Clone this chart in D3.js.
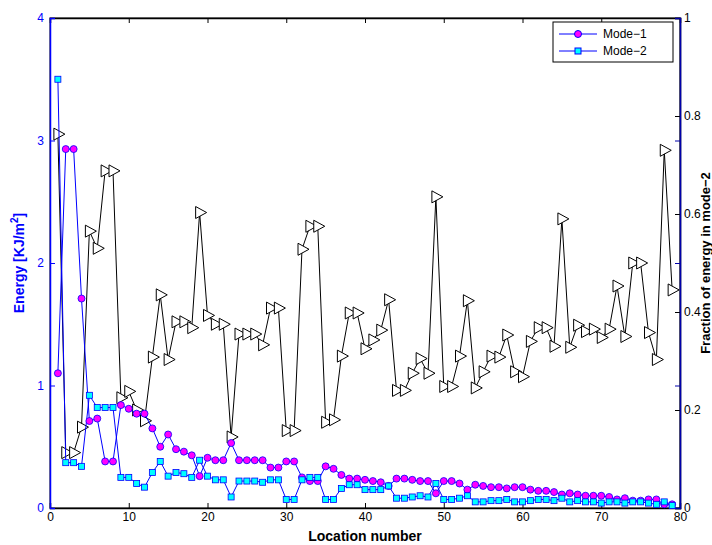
<!DOCTYPE html>
<meta charset="utf-8">
<style>
  body { margin: 0; background: #fff; }
  text { font-family: "Liberation Sans", Arial, sans-serif; }
</style>
<body>
<svg id="chart" width="712" height="545"></svg>
<script src="https://d3js.org/d3.v7.min.js"></script>
<script>
// energy values, KJ/m^2
var mode1 = [1.10,2.93,2.93,1.71,0.71,0.73,0.38,0.38,0.84,0.81,0.77,0.77,0.65,0.50,0.60,0.48,0.46,0.43,0.26,0.41,
  0.39,0.39,0.53,0.39,0.39,0.39,0.39,0.33,0.33,0.38,0.38,0.25,0.22,0.22,0.34,0.32,0.27,0.24,0.24,0.23,
  0.22,0.21,0.18,0.24,0.24,0.23,0.22,0.22,0.12,0.22,0.22,0.20,0.15,0.19,0.18,0.17,0.17,0.16,0.17,0.17,
  0.15,0.14,0.14,0.13,0.11,0.12,0.11,0.10,0.10,0.10,0.09,0.07,0.08,0.06,0.06,0.07,0.07,0.03,0.03];
var mode2 = [3.50,0.37,0.37,0.34,0.92,0.82,0.82,0.82,0.25,0.25,0.20,0.17,0.29,0.38,0.26,0.29,0.28,0.25,0.39,0.26,
  0.23,0.23,0.09,0.22,0.22,0.22,0.21,0.23,0.23,0.07,0.07,0.23,0.25,0.25,0.07,0.07,0.16,0.19,0.19,0.15,
  0.15,0.15,0.18,0.08,0.08,0.09,0.10,0.09,0.20,0.07,0.07,0.08,0.10,0.05,0.05,0.06,0.06,0.07,0.05,0.05,
  0.06,0.07,0.07,0.06,0.08,0.05,0.06,0.05,0.05,0.04,0.05,0.05,0.04,0.05,0.05,0.04,0.03,0.05,0.02];
// fraction of energy in mode-2
var frac = [0.763,0.113,0.113,0.165,0.565,0.530,0.688,0.688,0.225,0.238,0.200,0.178,0.308,0.435,0.303,0.380,0.380,0.368,0.603,0.393,
  0.375,0.375,0.145,0.355,0.355,0.355,0.333,0.408,0.408,0.158,0.158,0.528,0.575,0.575,0.175,0.180,0.310,0.398,0.398,0.325,
  0.343,0.363,0.425,0.240,0.240,0.275,0.305,0.275,0.635,0.248,0.248,0.310,0.423,0.245,0.278,0.310,0.308,0.353,0.278,0.268,
  0.340,0.368,0.368,0.330,0.590,0.328,0.373,0.360,0.365,0.348,0.365,0.453,0.350,0.500,0.500,0.358,0.303,0.730,0.445];
var xTicks = [0,10,20,30,40,50,60,70,80];
var yLeftTicks = [0,1,2,3,4];
var yRightTicks = [0,0.2,0.4,0.6,0.8,1];

var L = 50, R = 680, T = 18, B = 508;
var svg = d3.select("#chart");
var x = d3.scaleLinear().domain([0, 80]).range([L, R]);
var yl = d3.scaleLinear().domain([0, 4]).range([B, T]);
var yr = d3.scaleLinear().domain([0, 1]).range([B, T]);
var idx = d3.range(1, 80);
var fmt = d3.format("~g");

svg.append("rect").attr("x", L).attr("y", T).attr("width", R - L).attr("height", B - T)
  .attr("fill", "none").attr("stroke", "#000");

var gx = svg.append("g").attr("transform", "translate(0," + B + ")")
  .call(d3.axisBottom(x).tickValues(xTicks).tickSize(-5).tickPadding(4));
gx.selectAll("text").attr("font-size", 12);
svg.append("g").attr("transform", "translate(0," + T + ")")
  .call(d3.axisTop(x).tickValues(xTicks).tickSize(-5).tickFormat(""));

var gl = svg.append("g").attr("transform", "translate(" + L + ",0)")
  .call(d3.axisLeft(yl).tickValues(yLeftTicks).tickSize(-5).tickPadding(6).tickFormat(fmt));
gl.selectAll("text").attr("font-size", 12).attr("fill", "#00f");
gl.selectAll("line,path").attr("stroke", "#00f");
var gr = svg.append("g").attr("transform", "translate(" + R + ",0)")
  .call(d3.axisRight(yr).tickValues(yRightTicks).tickSize(-5).tickPadding(4).tickFormat(fmt));
gr.selectAll("text").attr("font-size", 12);
svg.append("g").attr("transform", "translate(" + R + ",0)")
  .call(d3.axisRight(yl).tickValues(yLeftTicks).tickSize(-5).tickFormat(""))
  .selectAll("line,path").attr("stroke", "#00a");
svg.selectAll(".domain").attr("stroke-width", 1.5);

// fraction line with triangles
svg.append("path").datum(idx).attr("fill", "none").attr("stroke", "#000")
  .attr("d", d3.line().x(function(d){ return x(d); }).y(function(d){ return yr(frac[d-1]); }));
svg.append("g").selectAll("path").data(idx).join("path")
  .attr("transform", function(d){ return "translate(" + x(d) + "," + yr(frac[d-1]) + ")"; })
  .attr("d", "M-4,-6L7,0L-4,6Z").attr("fill", "#fff").attr("stroke", "#000");

function series(vals) {
  svg.append("path").datum(idx).attr("fill", "none").attr("stroke", "#00f")
    .attr("d", d3.line().x(function(d){ return x(d); }).y(function(d){ return yl(vals[d-1]); }));
}
series(mode1); series(mode2);
svg.append("g").selectAll("circle").data(idx).join("circle")
  .attr("cx", function(d){ return x(d); }).attr("cy", function(d){ return yl(mode1[d-1]); })
  .attr("r", 3.5).attr("fill", "#f0f").attr("stroke", "#00f").attr("stroke-width", 0.8);
svg.append("g").selectAll("rect").data(idx).join("rect")
  .attr("x", function(d){ return x(d) - 3; }).attr("y", function(d){ return yl(mode2[d-1]) - 3; })
  .attr("width", 6).attr("height", 6).attr("fill", "#0ff").attr("stroke", "#00f").attr("stroke-width", 0.8);

// legend
var lg = svg.append("g").attr("transform", "translate(553,22)");
lg.append("rect").attr("width", 120).attr("height", 40).attr("fill", "#fff").attr("stroke", "#000");
lg.append("line").attr("x1", 6).attr("x2", 44).attr("y1", 12).attr("y2", 12).attr("stroke", "#00f");
lg.append("circle").attr("cx", 25).attr("cy", 12).attr("r", 3.5).attr("fill", "#f0f").attr("stroke", "#00f");
lg.append("text").attr("x", 50).attr("y", 16).attr("font-size", 12).text("Mode\u22121");
lg.append("line").attr("x1", 6).attr("x2", 44).attr("y1", 29).attr("y2", 29).attr("stroke", "#00f");
lg.append("rect").attr("x", 22).attr("y", 26).attr("width", 6).attr("height", 6).attr("fill", "#0ff").attr("stroke", "#00f");
lg.append("text").attr("x", 50).attr("y", 33).attr("font-size", 12).text("Mode\u22122");

svg.append("text").attr("x", (L + R) / 2).attr("y", 541).attr("text-anchor", "middle")
  .attr("font-size", 14).attr("font-weight", "bold").text("Location number");
var ylab = svg.append("text").attr("transform", "translate(24," + (T + B) / 2 + ") rotate(-90)")
  .attr("text-anchor", "middle").attr("font-size", 14).attr("font-weight", "bold").attr("fill", "#00f");
ylab.append("tspan").text("Energy [KJ/m");
ylab.append("tspan").attr("font-size", 10).attr("dy", -6).text("2");
ylab.append("tspan").attr("dy", 6).text("]");
svg.append("text").attr("transform", "translate(710," + (T + B) / 2 + ") rotate(-90)")
  .attr("text-anchor", "middle").attr("font-size", 13).attr("font-weight", "bold")
  .text("Fraction of energy in mode\u22122");
</script>
</body>
